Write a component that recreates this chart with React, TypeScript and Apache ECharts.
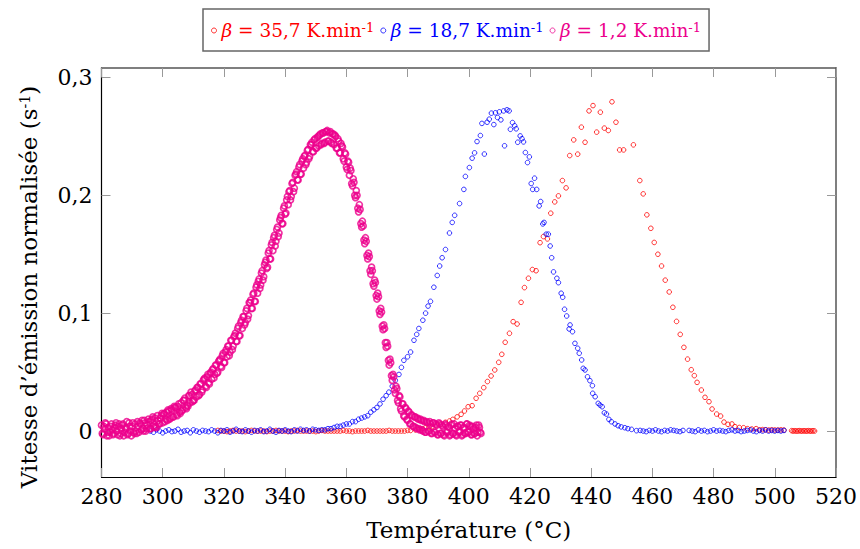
import React, { useEffect, useRef } from 'react';
import * as echarts from 'echarts';

const FONT = '"DejaVu Serif", serif';
const RED = '#ff0000';
const BLUE = '#0000ff';
const PINK = '#ec008c';

// X axis ticks (°C) and Y axis tick labels
const xTicks = { min: 280, max: 520, step: 20 };
const yTickValues = [0, 0.1, 0.2, 0.3];
const yRange = { min: -0.039, max: 0.308 };

// Legend labels
const legendNames = ['r', 'b', 'p'];
const legendTexts: Record<string, string> = {
  r: '{b|β} = 35,7 K.min{s|-1}',
  b: '{b|β} = 18,7 K.min{s|-1}',
  p: '{b|β} = 1,2 K.min{s|-1}',
};

// β = 35,7 K/min (red)
const redBaseStart = 318; // 1 °C steps
const redBase = [
  0.0005, 0, 0, -0.0005, 0, 0.0005, 0, 0, 0, -0.0005,
  0, 0.0005, 0, 0, 0, 0, -0.0005, 0, 0, 0.0005,
  0, 0, 0, -0.0005, 0, 0, 0.0005, 0, 0, 0,
  0, 0, -0.0005, 0, 0.0005, 0, 0, 0, 0, 0,
  0, 0.0005, 0, 0, -0.0005, 0, 0, 0, 0, 0.0005,
  0, 0, 0, 0, 0, 0, 0.0005, 0, 0, 0,
  0, 0, 0.0005, 0.0005,
];
const redMain: [number, number][] = [
  [382.6, 0.001], [383.7, 0.0015], [384.8, 0.002], [386, 0.003], [387, 0.0033], [388, 0.0037],
  [389.4, 0.0045], [390.8, 0.0057], [392.4, 0.0074], [393.7, 0.0085], [394.8, 0.0099], [396.2, 0.012],
  [397.5, 0.0142], [398.6, 0.017], [399.8, 0.0206], [401.1, 0.0215], [402.4, 0.0278], [403.6, 0.032],
  [404.9, 0.0368], [406.1, 0.042], [407.3, 0.0467], [408.5, 0.0518], [409.8, 0.0583], [410.8, 0.0651],
  [411.9, 0.0753], [413.3, 0.0829], [414.5, 0.0928], [415.8, 0.0908], [417.1, 0.1092], [418.2, 0.1217],
  [419.5, 0.1296], [420.8, 0.137], [422, 0.136], [423.3, 0.1598], [424.4, 0.165], [425.7, 0.163],
  [426.8, 0.1848], [428.1, 0.1944], [429.3, 0.1995], [430.6, 0.2125], [431.8, 0.2063], [433, 0.2337],
  [434.3, 0.247], [435.6, 0.2349], [436.8, 0.2578], [438, 0.245], [439.3, 0.2716], [440.6, 0.2761],
  [441.8, 0.2536], [443, 0.2705], [444.3, 0.257], [445.6, 0.255], [446.8, 0.2793], [448.1, 0.262],
  [449.3, 0.2385], [450.6, 0.2385], [453.8, 0.2428], [455.9, 0.2125], [457, 0.2012], [458.2, 0.1834],
  [459.5, 0.172], [460.6, 0.16], [461.8, 0.15], [463, 0.14], [464.2, 0.128], [465.5, 0.118],
  [466.7, 0.105], [467.9, 0.093], [469.1, 0.082], [470.3, 0.071], [471.5, 0.061], [472.7, 0.052],
  [473.7, 0.047], [474.6, 0.0413], [476, 0.0348], [477.2, 0.0286], [478.5, 0.0249], [479.5, 0.0187],
  [481, 0.0144], [482.3, 0.0127], [483.4, 0.0076], [484.7, 0.0057], [486, 0.006], [487, 0.0037],
  [488.4, 0.003], [489.8, 0.0028], [491.1, 0.002], [492.5, 0.0017], [493.9, 0.002], [495, 0.001],
  [496, 0.0012], [497, 0.001], [498, 0.0008], [499, 0.001], [500, 0.0009], [501, 0.0008],
  [502, 0.001], [503, 0.0008],
];
const redEndStart = 505.5; // 0.5 °C steps
const redEnd = [0.0003, 0, 0.0002, 0, 0, 0.0003, 0, 0, 0.0002, 0, 0, 0.0003, 0, 0, 0.0002, 0];

// β = 18,7 K/min (blue)
const blueBaseStart = 296; // 1 °C steps
const blueBase = [
  0, -0.001, 0.001, 0, -0.0015, 0, 0.001, -0.0005, 0, 0.0015,
  -0.001, 0, 0.0005, -0.0015, 0.001, 0, -0.001, 0.0005, 0, -0.0005,
  0.001, 0, -0.0015, 0.0005, 0, 0.001, -0.001, 0, 0.0015, 0,
  -0.0005, 0.001, 0, -0.001, 0.0005, 0, 0.001, -0.0005, 0, 0.0015,
  0, -0.001, 0.0005, 0, 0.001, 0, -0.0005, 0.001, 0, 0.0015,
  0.0005, 0.001, 0, 0.0015, 0.001, 0.0005, 0.001,
];
const blueMainT = [
  353, 354, 355, 356, 357, 358, 359, 360, 361, 362, 363, 364, 365, 366, 367, 368, 369, 370, 371, 372, 373,
  373.9, 375, 376, 377.2, 378, 378.8, 380, 381, 382.1, 383,
  383.7, 385, 385.9, 386.7, 387.5, 388.6, 389.7, 390.5, 391.3, 392.4,
  393.7, 394.6, 395.4, 397, 398.4, 398.9, 400.2, 401.1, 401.9, 402.7,
  403.8, 404.3, 405.1, 406, 406.7, 407.4, 408.2, 408.7, 409.4, 410,
  410.5, 411.4, 411.7, 412.5, 413.2, 413.6, 414.3, 415, 415.5, 416,
  416.8, 417.4, 417.9, 418.5, 419.2, 419.8, 420.4, 420.9, 421.5, 422.2,
  423, 423.5, 424.2, 424.6, 425.3, 426, 426.6, 427.1, 427.7, 428.8,
  429.3, 430.2, 430.7, 431.3, 432, 432.8, 433.1, 433.9, 434.7, 435.6,
  436.1, 436.9, 437.4, 438, 438.8, 439.6, 440.4, 440.5, 441.3, 442.3,
  442.9, 443.6, 444.3, 445, 445.8, 446.6, 447.8, 448.8, 449.8, 451,
  452, 453.2, 454.8,
];
const blueMainV = [
  0.001, 0.002, 0.002, 0.003, 0.004, 0.004, 0.005, 0.006, 0.006, 0.008,
  0.008, 0.01, 0.011, 0.012, 0.013, 0.016, 0.018, 0.02, 0.023, 0.027, 0.03,
  0.033, 0.038, 0.043, 0.048, 0.054, 0.06, 0.063, 0.067, 0.077, 0.082,
  0.087, 0.094, 0.1, 0.106, 0.11, 0.122, 0.132, 0.14, 0.147, 0.154,
  0.168, 0.177, 0.183, 0.193, 0.205, 0.216, 0.2235, 0.2315, 0.236, 0.2456,
  0.2507, 0.261, 0.235, 0.262, 0.2646, 0.2697, 0.26, 0.27, 0.266, 0.2708,
  0.264, 0.2716, 0.242, 0.2725, 0.2716, 0.256, 0.2617, 0.259, 0.2564, 0.245,
  0.2504, 0.248, 0.2453, 0.2363, 0.2278, 0.2326, 0.21, 0.205, 0.2145, 0.205,
  0.191, 0.1947, 0.1757, 0.177, 0.167, 0.167, 0.157, 0.147, 0.135, 0.1296,
  0.1259, 0.1169, 0.1135, 0.1033, 0.0976, 0.0866, 0.09, 0.0843, 0.0744, 0.0702,
  0.066, 0.0603, 0.0532, 0.0518, 0.046, 0.0427, 0.0385, 0.032, 0.0291, 0.0235,
  0.022, 0.0206, 0.0155, 0.0144, 0.0099, 0.0079, 0.006, 0.0045, 0.0035, 0.0028,
  0.002, 0.0014, 0.0003,
];
const blueTailAStart = 456; // 1 °C steps
const blueTailA = [0.0005, 0, -0.0005, 0.0005, 0, 0.001, 0, -0.0005, 0.0005, 0, 0.001, 0.0005, 0, -0.0005, 0.0005];
const blueTailBStart = 472; // 1 °C steps
const blueTailB = [
  0.0005, 0, -0.0005, 0.001, 0, 0.0005, -0.0005, 0, 0.001, 0,
  0.0005, 0, -0.0005, 0.0005, 0.001, 0, 0.0005, -0.0005, 0, 0.0005,
  0.001, 0, -0.0005, 0.0005, 0, 0.001, 0, 0.0005, 0, 0.0005,
  0, 0.0005,
];

// β = 1,2 K/min (pink), 0.5 °C steps from 280 °C
const pinkStart = 280;
const pinkStep = 0.5;
const pinkV = [
  0.005, -0.003, 0.002, 0.006, -0.001, -0.004, 0.004, 0.001, -0.002, 0.005,
  0, 0.004, -0.004, 0.002, 0.006, -0.001, 0.002, -0.003, 0.007, 0,
  0.004, -0.001, 0.006, -0.002, 0.004, 0.007, 0.001, 0.002, 0.009, 0,
  0.005, 0.008, 0.002, 0.01, 0.004, 0.011, 0.003, 0.009, 0.006, 0.013,
  0.007, 0.015, 0.01, 0.009, 0.017, 0.011, 0.018, 0.012, 0.02, 0.014,
  0.021, 0.016, 0.024, 0.018, 0.026, 0.02, 0.022, 0.03, 0.024, 0.031,
  0.026, 0.034, 0.029, 0.037, 0.031, 0.04, 0.035, 0.044, 0.038, 0.046,
  0.041, 0.049, 0.044, 0.053, 0.048, 0.056, 0.05, 0.06, 0.055, 0.064,
  0.058, 0.067, 0.063, 0.072, 0.067, 0.077, 0.072, 0.081, 0.076, 0.087,
  0.081, 0.092, 0.087, 0.097, 0.092, 0.104, 0.098, 0.109, 0.104, 0.116,
  0.11, 0.122, 0.117, 0.129, 0.124, 0.136, 0.131, 0.143, 0.138, 0.151,
  0.146, 0.158, 0.153, 0.166, 0.161, 0.173, 0.168, 0.181, 0.176, 0.189,
  0.184, 0.196, 0.192, 0.204, 0.199, 0.211, 0.206, 0.218, 0.213, 0.224,
  0.218, 0.229, 0.223, 0.234, 0.228, 0.239, 0.233, 0.243, 0.237, 0.247,
  0.24, 0.249, 0.242, 0.252, 0.244, 0.253, 0.245, 0.254, 0.246, 0.253,
  0.245, 0.252, 0.243, 0.25, 0.24, 0.246, 0.236, 0.242, 0.231, 0.236,
  0.224, 0.229, 0.217, 0.221, 0.208, 0.211, 0.198, 0.2, 0.186, 0.188,
  0.173, 0.174, 0.159, 0.161, 0.146, 0.148, 0.133, 0.136, 0.123, 0.126,
  0.112, 0.114, 0.099, 0.101, 0.086, 0.087, 0.071, 0.072, 0.056, 0.058,
  0.043, 0.046, 0.032, 0.036, 0.024, 0.029, 0.017, 0.023, 0.012, 0.019,
  0.009, 0.016, 0.006, 0.013, 0.004, 0.012, 0.002, 0.01, 0.001, 0.009,
  0, 0.008, -0.001, 0.007, 0, 0.006, -0.002, 0.007, -0.001, 0.005,
  -0.003, 0.006, -0.002, 0.004, -0.004, 0.005, -0.001, 0.003, -0.003, 0.006,
  -0.002, 0.002, -0.004, 0.004, -0.001, 0.005, -0.003, 0.003, -0.002, 0.006,
  -0.001, 0.004, -0.003, 0.002, -0.002, 0.005, -0.001, 0.003, -0.002,
];
// second interleaved pass of pink samples, 0.5 °C steps from 280.25 °C
const pink2Start = 280.25;
const pinkV2 = [
  -0.002, 0.004, 0.007, -0.004, 0.003, -0.001, 0.006, -0.003, 0.003, 0.007,
  -0.003, 0.006, -0.002, 0.005, -0.004, 0.003, 0.008, -0.002, 0.004, -0.004,
  0.007, -0.002, 0, 0.008, -0.001, 0.006, 0.009, 0, 0.007, 0.002,
  0.01, 0.002, 0.009, 0.012, 0.003, 0.004, 0.013, 0.006, 0.011, 0.015,
  0.014, 0.008, 0.016, 0.018, 0.01, 0.019, 0.012, 0.021, 0.02, 0.013,
  0.023, 0.015, 0.017, 0.026, 0.028, 0.019, 0.021, 0.03, 0.033, 0.025,
  0.026, 0.035, 0.037, 0.03, 0.04, 0.033, 0.043, 0.045, 0.037, 0.048,
  0.04, 0.05, 0.052, 0.045, 0.056, 0.049, 0.059, 0.061, 0.054, 0.066,
  0.058, 0.069, 0.072, 0.064, 0.077, 0.069, 0.08, 0.083, 0.076, 0.089,
  0.081, 0.094, 0.097, 0.09, 0.102, 0.095, 0.109, 0.111, 0.104, 0.117,
  0.11, 0.124, 0.127, 0.121, 0.134, 0.128, 0.141, 0.145, 0.139, 0.153,
  0.146, 0.16, 0.164, 0.157, 0.171, 0.165, 0.179, 0.183, 0.176, 0.191,
  0.185, 0.199, 0.203, 0.196, 0.21, 0.203, 0.217, 0.22, 0.213, 0.226,
  0.218, 0.231, 0.233, 0.226, 0.238, 0.231, 0.243, 0.245, 0.237, 0.248,
  0.24, 0.25, 0.251, 0.243, 0.253, 0.244, 0.254, 0.255, 0.246, 0.254,
  0.244, 0.252, 0.251, 0.24, 0.248, 0.236, 0.244, 0.241, 0.229, 0.235,
  0.222, 0.228, 0.223, 0.21, 0.214, 0.2, 0.204, 0.189, 0.192, 0.176,
  0.178, 0.162, 0.164, 0.149, 0.151, 0.136, 0.139, 0.125, 0.128, 0.115,
  0.117, 0.102, 0.104, 0.089, 0.09, 0.075, 0.075, 0.06, 0.061, 0.047,
  0.048, 0.035, 0.038, 0.026, 0.03, 0.019, 0.023, 0.013, 0.02, 0.01,
  0.017, 0.006, 0.014, 0.004, 0.012, 0.003, 0.011, 0.002, 0.01, 0.001,
  0.009, -0.001, 0.008, 0, 0.008, -0.002, 0.007, -0.001, 0.006, -0.003,
  0.007, -0.002, 0.005, -0.003, 0.006, -0.001, 0.004, -0.004, 0.005, -0.002,
  0.006, -0.003, 0.004, -0.001, 0.005, -0.004, 0.003, -0.002, 0.006, -0.001,
  0.005, -0.003, 0.004, -0.002, 0.003, -0.004, 0.005, -0.001,
];

const grid = (start: number, step: number, vals: number[]) =>
  vals.map((v, i) => [start + i * step, v]);

const redData = [...grid(redBaseStart, 1, redBase), ...redMain, ...grid(redEndStart, 0.5, redEnd)];
const blueData = [
  ...grid(blueBaseStart, 1, blueBase),
  ...blueMainT.map((t, i) => [t, blueMainV[i]]),
  ...grid(blueTailAStart, 1, blueTailA),
  ...grid(blueTailBStart, 1, blueTailB),
];
const pinkData = [...grid(pinkStart, pinkStep, pinkV), ...grid(pink2Start, pinkStep, pinkV2)];

const colors: Record<string, string> = { r: RED, b: BLUE, p: PINK };

export default function App() {
  const ref = useRef<HTMLDivElement>(null);
  useEffect(() => {
    const chart = echarts.init(ref.current!, null, { renderer: 'svg' });
    const FS = 22;
    const NFS = 23;
    const legendFS = 18.5;
    const scatter = (name: string, data: number[][], size: number, bw: number) => ({
      type: 'scatter',
      name,
      data,
      symbol: 'circle',
      symbolSize: size,
      itemStyle: { color: 'rgba(0,0,0,0)', borderColor: colors[name], borderWidth: bw },
      emphasis: { disabled: true },
      silent: true,
    });
    chart.setOption({
      animation: false,
      textStyle: { fontFamily: FONT },
      grid: { left: 101.5, right: 22, top: 68, bottom: 72 },
      legend: {
        left: 203,
        top: 9,
        padding: [12, 8, 11, 8],
        borderColor: '#666',
        borderWidth: 1.5,
        itemWidth: 5,
        itemHeight: 5,
        itemGap: 6,
        selectedMode: false,
        formatter: (n: string) => legendTexts[n],
        data: legendNames.map((n) => ({
          name: n,
          icon: 'circle',
          itemStyle: { color: 'rgba(0,0,0,0)', borderColor: colors[n], borderWidth: 1 },
          textStyle: {
            color: colors[n],
            fontSize: legendFS,
            fontFamily: FONT,
            rich: {
              b: { fontStyle: 'italic', color: colors[n], fontSize: legendFS, fontFamily: FONT },
              s: { color: colors[n], fontSize: 13, fontFamily: FONT, verticalAlign: 'top', lineHeight: 13 },
            },
          },
        })),
      },
      xAxis: [
        {
          type: 'value',
          min: xTicks.min,
          max: xTicks.max,
          interval: xTicks.step,
          axisLine: { show: true, onZero: false, lineStyle: { color: '#000', width: 1.2 } },
          axisTick: { inside: true, length: 9, lineStyle: { color: '#999' } },
          axisLabel: { color: '#000', fontSize: FS, fontFamily: FONT, margin: 8 },
          splitLine: { show: false },
          name: 'Température (°C)',
          nameLocation: 'middle',
          nameGap: 41,
          nameTextStyle: { color: '#000', fontSize: NFS, fontFamily: FONT },
        },
        {
          type: 'value',
          position: 'top',
          min: xTicks.min,
          max: xTicks.max,
          interval: xTicks.step,
          axisLine: { show: true, onZero: false, lineStyle: { color: '#555', width: 1.5 } },
          axisTick: { inside: true, length: 9, lineStyle: { color: '#999' } },
          axisLabel: { show: false },
          splitLine: { show: false },
        },
      ],
      yAxis: [
        {
          type: 'value',
          min: yRange.min,
          max: yRange.max,
          axisLine: { show: true, onZero: false, lineStyle: { color: '#000', width: 1.2 } },
          axisTick: { inside: true, length: 9, customValues: yTickValues, lineStyle: { color: '#999' } },
          axisLabel: {
            customValues: yTickValues,
            color: '#000',
            fontSize: FS,
            fontFamily: FONT,
            margin: 9,
            formatter: (v: number) => (v === 0 ? '0' : (Math.round(v * 10) / 10).toString().replace('.', ',')),
          },
          splitLine: { show: false },
        },
        {
          type: 'value',
          position: 'right',
          min: yRange.min,
          max: yRange.max,
          axisLine: { show: true, onZero: false, lineStyle: { color: '#555', width: 1.5 } },
          axisTick: { inside: true, length: 9, customValues: yTickValues, lineStyle: { color: '#999' } },
          axisLabel: { show: false },
          splitLine: { show: false },
        },
      ],
      graphic: [
        {
          type: 'text',
          x: 29,
          y: 287,
          rotation: Math.PI / 2,
          style: {
            text: 'Vitesse d’émission normalisée (s{s|-1})',
            fontSize: NFS,
            fontFamily: FONT,
            fill: '#000',
            align: 'center',
            verticalAlign: 'middle',
            rich: {
              s: { fontSize: 14, fontFamily: FONT, fill: '#000', verticalAlign: 'top', lineHeight: 14 },
            },
          },
        },
      ],
      series: [
        scatter('r', redData, 4.6, 1),
        scatter('b', blueData, 4.6, 1),
        scatter('p', pinkData, 6, 1.7),
      ],
    });
    return () => chart.dispose();
  }, []);
  return <div ref={ref} style={{ position: 'absolute', left: 0, top: 0, width: 860, height: 549 }} />;
}
